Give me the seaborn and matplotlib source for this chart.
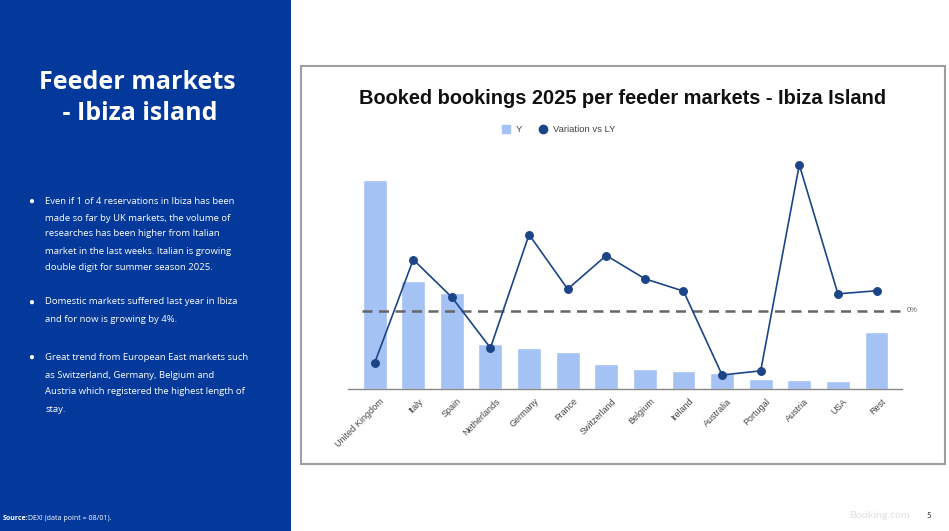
import numpy as np
import pandas as pd
import seaborn as sns
from matplotlib import pyplot as plt
from matplotlib.patches import Rectangle
from matplotlib.lines import Line2D
from matplotlib.transforms import ScaledTranslation

# values (share of bookings %, variation vs LY %)
markets = ["United Kingdom", "Italy", "Spain", "Netherlands", "Germany", "France", "Switzerland",
           "Belgium", "Ireland", "Australia", "Portugal", "Austria", "USA", "Rest"]
share = [25.0, 12.9, 11.5, 5.4, 4.9, 4.4, 3.0, 2.4, 2.1, 1.9, 1.2, 1.1, 0.9, 6.8]
variation = [-15.2, 15.0, 4.0, -10.8, 22.3, 6.4, 16.2, 9.4, 5.8, -18.7, -17.5, 42.7, 5.0, 5.9]

bullets = [
    ["Even if 1 of 4 reservations in Ibiza has been",
     "made so far by UK markets, the volume of",
     "researches has been higher from Italian",
     "market in the last weeks. Italian is growing",
     "double digit for summer season 2025."],
    ["Domestic markets suffered last year in Ibiza",
     "and for now is growing by 4%."],
    ["Great trend from European East markets such",
     "as Switzerland, Germany, Belgium and",
     "Austria which registered the highest length of",
     "stay."],
]

df = pd.DataFrame({"market": markets, "share": share, "variation": variation})

sns.set_style("white")
plt.rcParams["font.family"] = ["Liberation Sans", "DejaVu Sans"]

bar_color = "#a4c2f4"
line_color = "#1c4587"
panel_blue = "#03399a"

W, H = 949, 531
fig = plt.figure(figsize=(W / 100, H / 100), dpi=100)

# left blue panel
fig.patches.append(Rectangle((0, 0), 291 / W, 1, transform=fig.transFigure,
                             facecolor=panel_blue, edgecolor="none", zorder=0))
# chart frame
fig.patches.append(Rectangle((301 / W, (H - 464) / H), (945 - 301) / W, (464 - 66) / H,
                             transform=fig.transFigure, fill=False,
                             edgecolor="#9e9e9e", linewidth=1.5, zorder=1))

fig.text(137 / W, 1 - 82 / H, "Feeder markets", color="white", fontsize=18,
         fontweight="bold", family="Open Sans", ha="center", va="center")
fig.text(137 / W, 1 - 114 / H, " - Ibiza island", color="white", fontsize=18,
         fontweight="bold", family="Open Sans", ha="center", va="center")

line_y = [[201, 218, 234, 251, 268], [302, 320], [357, 375, 392, 410]]
for block, ys in zip(bullets, line_y):
    fig.text(31 / W, 1 - ys[0] / H, "\u25cf", color="white", fontsize=7,
             ha="center", va="center")
    for txt, y in zip(block, ys):
        fig.text(45 / W, 1 - y / H, txt, color="white", fontsize=6.8, family="Open Sans",
                 ha="left", va="center")

fig.text(3 / W, 1 - 518 / H, "Source:", color="white", fontsize=5, fontweight="bold",
         family="Open Sans", ha="left", va="center")
fig.text(28 / W, 1 - 518 / H, "DEXI (data point = 08/01).", color="white", fontsize=5,
         family="Open Sans", ha="left", va="center")
fig.text(879 / W, 1 - 516 / H, "Booking.com", color="#e6e6e6", fontsize=7.5,
         fontweight="bold", family="Lato", ha="center", va="center")
fig.text(929 / W, 1 - 515 / H, "5", color="#222222", fontsize=5.5, family="Lato",
         ha="center", va="center")

# chart
ax = fig.add_axes([348 / W, (H - 389) / H, (902 - 348) / W, (389 - 160) / H])
sns.barplot(data=df, x="market", y="share", color=bar_color, width=0.62,
            saturation=1, ax=ax, zorder=2)
ax.set_ylim(0, 27.4)
ax.set_xlim(-0.69, 13.66)
ax.set_xlabel("")
ax.set_ylabel("")
ax.set_yticks([])
ax.tick_params(axis="x", length=0, pad=3)
for s in ["top", "right", "left"]:
    ax.spines[s].set_visible(False)
ax.spines["bottom"].set_color("#888888")
ax.spines["bottom"].set_linewidth(1)
ax.set_xticks(range(len(markets)))
ax.set_xticklabels(markets, rotation=45, ha="right", rotation_mode="anchor",
                   fontsize=6.5, color="#444444")
shift = ScaledTranslation(0.05, -0.035, fig.dpi_scale_trans)
for lbl in ax.get_xticklabels():
    lbl.set_transform(lbl.get_transform() + shift)

ax2 = ax.twinx()
ax2.axhline(0, xmin=(-0.33 + 0.69) / 14.35, xmax=(13.62 + 0.69) / 14.35,
            color="#666666", linestyle=(0, (4, 2.6)), linewidth=1.8, zorder=1)
sns.pointplot(data=df, x="market", y="variation", color=line_color, ax=ax2,
              markersize=5.5, linewidth=1.2, zorder=3)
ax2.set_ylim(-22.8, 44.1)
ax2.set_xlim(-0.69, 13.66)
ax2.set_yticks([])
ax2.set_ylabel("")
for s in ["top", "right", "left", "bottom"]:
    ax2.spines[s].set_visible(False)
ax2.text(13.78, 0, "0%", fontsize=5.5, color="#666666", ha="left", va="center", clip_on=False)

fig.text(623 / W, 1 - 99 / H, "Booked bookings 2025 per feeder markets - Ibiza Island",
         fontsize=14.4, fontweight="bold", color="#111111", ha="center", va="center")

handles = [Line2D([], [], marker="s", linestyle="none", color=bar_color, markersize=5.5),
           Line2D([], [], marker="o", linestyle="none", color=line_color, markersize=6)]
fig.legend(handles, ["Y", "Variation vs LY"], loc="center", bbox_to_anchor=(556 / W, 1 - 130 / H),
           ncol=2, frameon=False, fontsize=6.8, handletextpad=0.1, columnspacing=1.2,
           labelcolor="#444444")

fig.savefig("out.png", dpi=100)
